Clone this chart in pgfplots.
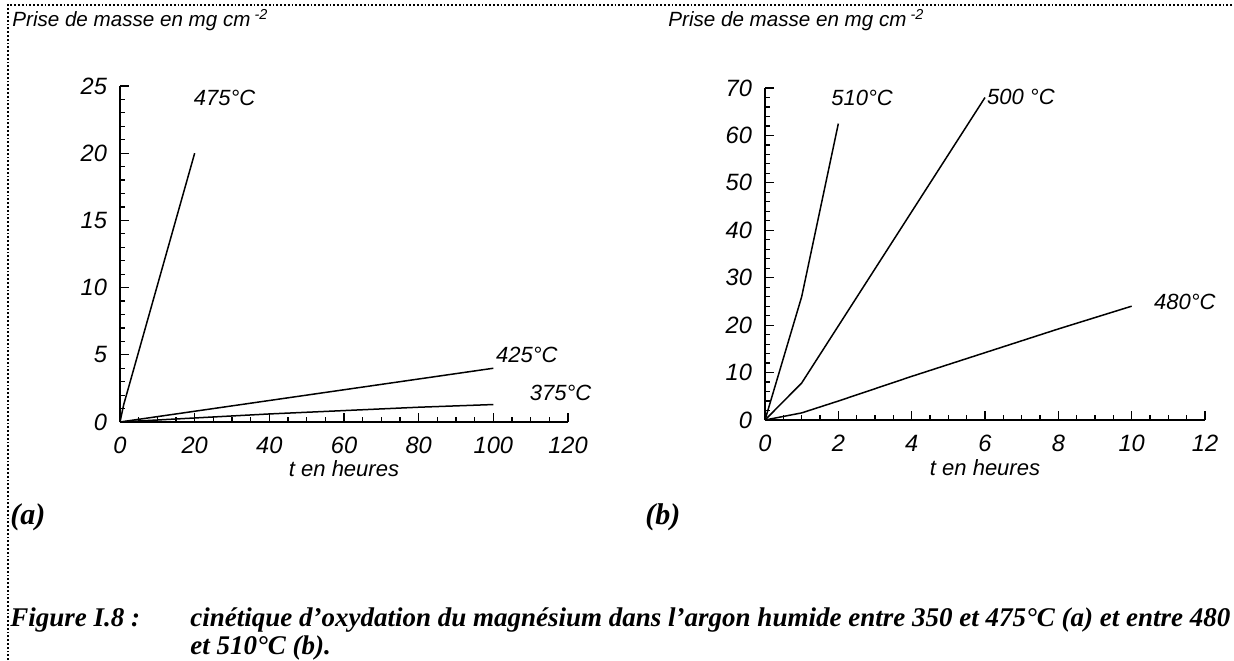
\documentclass[border=0pt]{standalone}
\usepackage{fontspec}
\setmainfont{Liberation Serif}
\newfontfamily\hv{Liberation Sans}
\usepackage{pgfplots}
\pgfplotsset{compat=1.18}
\pgfplotsset{
  myaxis/.style={
    scale only axis, anchor=south west,
    axis lines=left, axis line style={-, line width=0.8pt},
    tick align=inside, major tick length=4.5pt, minor tick length=2.5pt,
    every tick/.style={black, line width=0.6pt},
    /pgf/number format/assume math mode=true,
    ticklabel style={font=\hv\itshape\fontsize{11.8}{13}\selectfont},
    yticklabel style={xshift=-3pt},
    xticklabel style={yshift=-4pt},
    clip=false,
  },
  crv/.style={black, line width=0.75pt, no marks},
}
\begin{document}
\begin{tikzpicture}[x=0.5pt,y=0.5pt]
\useasboundingbox (0,0) rectangle (1234,660);
\draw[densely dotted, line width=0.9pt] (8,0) -- (8,655) -- (1234,655);
% panel (a)
\begin{axis}[myaxis, at={(60pt,119pt)}, width=224pt, height=168pt,
  xmin=0, xmax=120, ymin=0, ymax=25,
  xtick={0,20,...,120}, minor x tick num=3,
  ytick={0,5,...,25}, minor y tick num=4]
\addplot[crv] coordinates {(0,0) (1,1.3) (20,20)};
\addplot[crv] coordinates {(0,0) (20,0.8) (40,1.6) (60,2.4) (80,3.2) (100,4.0)};
\addplot[crv] coordinates {(0,0) (10,0.15) (20,0.3) (40,0.6) (60,0.85) (80,1.1) (100,1.3)};
\node[font=\hv\itshape\fontsize{11}{13}\selectfont] at (axis cs:28,24.1) {475°C};
\node[font=\hv\itshape\fontsize{11}{13}\selectfont] at (axis cs:109,5.0) {425°C};
\node[font=\hv\itshape\fontsize{11}{13}\selectfont] at (axis cs:118,2.2) {375°C};
\node[font=\hv\itshape\fontsize{11}{13}\selectfont] at (axis cs:60,-3.5) {t en heures};
\end{axis}
% panel (b)
\begin{axis}[myaxis, at={(382.5pt,120pt)}, width=220pt, height=166pt,
  xmin=0, xmax=12, ymin=0, ymax=70,
  xtick={0,2,...,12}, minor x tick num=3,
  ytick={0,10,...,70}, minor y tick num=4]
\addplot[crv] coordinates {(0,0) (1,26) (2,62.5)};
\addplot[crv] coordinates {(0,0) (1,7.8) (6,68)};
\addplot[crv] coordinates {(0,0) (1,1.5) (2,4) (4,9.2) (6,14.2) (8,19.2) (10,24)};
\node[font=\hv\itshape\fontsize{11}{13}\selectfont] at (axis cs:2.65,67.9) {510°C};
\node[font=\hv\itshape\fontsize{11}{13}\selectfont] at (axis cs:6.98,68.1) {500 °C};
\node[font=\hv\itshape\fontsize{11}{13}\selectfont] at (axis cs:11.45,24.9) {480°C};
\node[font=\hv\itshape\fontsize{11}{13}\selectfont] at (axis cs:6,-10) {t en heures};
\end{axis}
% titles
\node[anchor=west, font=\hv\itshape\fontsize{10.3}{12}\selectfont, inner sep=0pt] at (12,640) {Prise de masse en mg cm\textsuperscript{ -2}};
\node[anchor=west, font=\hv\itshape\fontsize{10.3}{12}\selectfont, inner sep=0pt] at (668,640) {Prise de masse en mg cm\textsuperscript{ -2}};
% panel letters
\node[anchor=west, font=\bfseries\itshape\fontsize{15}{17}\selectfont, inner sep=0pt] at (10,143) {(a)};
\node[anchor=west, font=\bfseries\itshape\fontsize{15}{17}\selectfont, inner sep=0pt] at (645,143) {(b)};
% caption
\node[anchor=base west, font=\bfseries\itshape\fontsize{13.5}{14}\selectfont, inner sep=0pt] at (10,34) {Figure I.8 :};
\node[anchor=north west, align=left, font=\bfseries\itshape\fontsize{13.5}{14}\selectfont, inner sep=0pt] at (190,53) {cinétique d’oxydation du magnésium dans l’argon humide entre 350 et 475°C (a) et entre 480\\et 510°C (b).};
\end{tikzpicture}
\end{document}
